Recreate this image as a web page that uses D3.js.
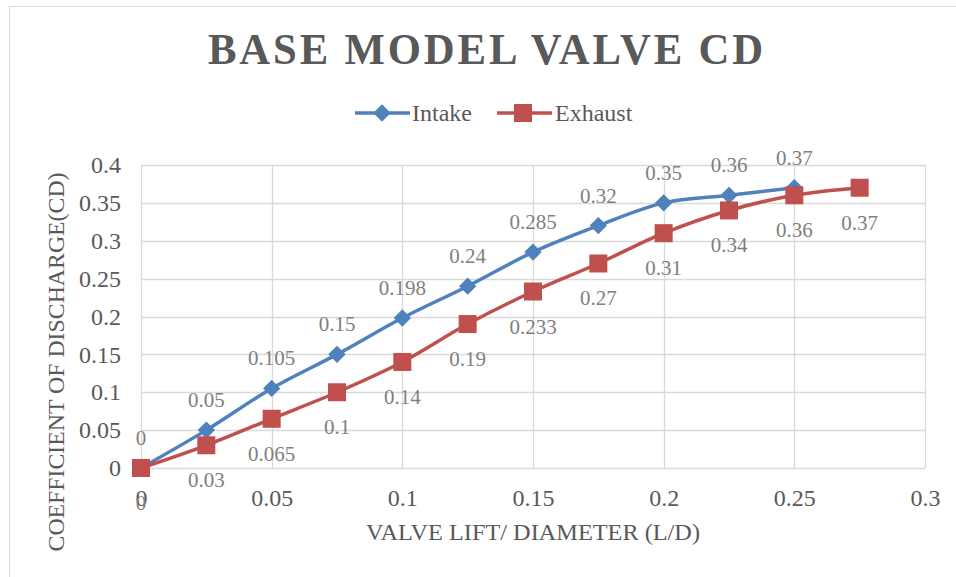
<!DOCTYPE html>
<html>
<head>
<meta charset="utf-8">
<script src="https://cdn.jsdelivr.net/npm/d3@7"></script>
<style>
  html, body { margin: 0; padding: 0; background: #fff; }
  svg { display: block; }
  text { font-family: "Liberation Serif", "Times New Roman", serif; }
</style>
</head>
<body>
<svg id="chart" width="956" height="577"></svg>
<script>
// ---- data ----
const intakeX = [0, 0.025, 0.05, 0.075, 0.1, 0.125, 0.15, 0.175, 0.2, 0.225, 0.25];
const intakeY = [0, 0.05, 0.105, 0.15, 0.198, 0.24, 0.285, 0.32, 0.35, 0.36, 0.37];
const exhaustX = [0, 0.025, 0.05, 0.075, 0.1, 0.125, 0.15, 0.175, 0.2, 0.225, 0.25, 0.275];
const exhaustY = [0, 0.03, 0.065, 0.1, 0.14, 0.19, 0.233, 0.27, 0.31, 0.34, 0.36, 0.37];
const xTicks = [0, 0.05, 0.1, 0.15, 0.2, 0.25, 0.3];
const yTicks = [0, 0.05, 0.1, 0.15, 0.2, 0.25, 0.3, 0.35, 0.4];
const seriesNames = ["Intake", "Exhaust"];
const titleText = "BASE MODEL VALVE CD";
const xTitle = "VALVE LIFT/ DIAMETER (L/D)";
const yTitle = "COEFFICIENT OF DISCHARGE(CD)";

const blue = "#4f81bd", red = "#c0504d";
const svg = d3.select("#chart");

// chart border
svg.append("rect").attr("x", 9.5).attr("y", 6.5).attr("width", 960).attr("height", 600)
  .attr("fill", "#fff").attr("stroke", "#d9d9d9").attr("stroke-width", 1);

const x = d3.scaleLinear().domain([0, 0.3]).range([141, 925]);
const y = d3.scaleLinear().domain([0, 0.4]).range([468, 165]);

// gridlines
const g = svg.append("g");
g.selectAll("line.h").data(yTicks).join("line")
  .attr("x1", x(0)).attr("x2", x(0.3))
  .attr("y1", d => Math.round(y(d)) + 0.5).attr("y2", d => Math.round(y(d)) + 0.5)
  .attr("stroke", "#d9d9d9").attr("stroke-width", 1.3);
g.selectAll("line.v").data(xTicks).join("line")
  .attr("y1", y(0)).attr("y2", y(0.4))
  .attr("x1", d => Math.round(x(d)) + 0.5).attr("x2", d => Math.round(x(d)) + 0.5)
  .attr("stroke", "#d9d9d9").attr("stroke-width", 1.3);

// axes with d3 (labels only)
const fmt = d => String(+d.toFixed(3));
const yAxis = svg.append("g").attr("transform", `translate(${x(0)},0)`)
  .call(d3.axisLeft(y).tickValues(yTicks).tickFormat(fmt).tickSize(0).tickPadding(20));
const xAxis = svg.append("g").attr("transform", `translate(0,${y(0)})`)
  .call(d3.axisBottom(x).tickValues(xTicks).tickFormat(fmt).tickSize(0).tickPadding(21));
[yAxis, xAxis].forEach(a => {
  a.select(".domain").remove();
  a.selectAll("text").attr("font-family", "Liberation Serif").attr("font-size", 24).attr("fill", "#595959");
});

// title
svg.append("text").attr("x", 487).attr("y", 64).attr("text-anchor", "middle")
  .attr("font-size", 45).attr("font-weight", "bold").attr("fill", "#595959")
  .attr("letter-spacing", 3)
  .attr("textLength", 558).attr("lengthAdjust", "spacingAndGlyphs")
  .text(titleText);

// axis titles
svg.append("text").attr("x", 533).attr("y", 540).attr("text-anchor", "middle")
  .attr("font-size", 24).attr("fill", "#595959")
  .attr("textLength", 334).attr("lengthAdjust", "spacingAndGlyphs").text(xTitle);
svg.append("text").attr("transform", "translate(64,362) rotate(-90)").attr("text-anchor", "middle")
  .attr("font-size", 23).attr("fill", "#595959")
  .attr("textLength", 379).attr("lengthAdjust", "spacingAndGlyphs").text(yTitle);

// lines
const mk = (xs, ys) => xs.map((v, i) => [v, ys[i]]);
const intake = mk(intakeX, intakeY), exhaust = mk(exhaustX, exhaustY);
const line = d3.line().x(d => x(d[0])).y(d => y(d[1])).curve(d3.curveCatmullRom.alpha(0.5));

svg.append("path").datum(intake).attr("d", line).attr("fill", "none")
  .attr("stroke", blue).attr("stroke-width", 3.5).attr("stroke-linejoin", "round");
svg.append("path").datum(exhaust).attr("d", line).attr("fill", "none")
  .attr("stroke", red).attr("stroke-width", 3.5).attr("stroke-linejoin", "round");

const diamondPath = d3.symbol().type(d3.symbolSquare).size(150)();

svg.append("g").selectAll("path").data(intake).join("path")
  .attr("d", diamondPath)
  .attr("transform", d => `translate(${x(d[0])},${y(d[1])}) rotate(45)`)
  .attr("fill", blue);
svg.append("g").selectAll("rect").data(exhaust).join("rect")
  .attr("x", d => x(d[0]) - 9).attr("y", d => y(d[1]) - 9)
  .attr("width", 18).attr("height", 18).attr("fill", red);

// data labels
svg.append("g").selectAll("text").data(intake).join("text")
  .attr("x", d => x(d[0])).attr("y", d => y(d[1]) - 23)
  .attr("text-anchor", "middle").attr("font-size", 21).attr("fill", "#7f7f7f")
  .text(d => fmt(d[1]));
svg.append("g").selectAll("text").data(exhaust).join("text")
  .attr("x", d => x(d[0])).attr("y", d => y(d[1]) + 42)
  .attr("text-anchor", "middle").attr("font-size", 21).attr("fill", "#7f7f7f")
  .text(d => fmt(d[1]));

// legend
const lg = svg.append("g");
lg.append("line").attr("x1", 355).attr("x2", 410).attr("y1", 113).attr("y2", 113)
  .attr("stroke", blue).attr("stroke-width", 3.5);
lg.append("path").attr("d", diamondPath)
  .attr("transform", "translate(382,113) rotate(45)").attr("fill", blue);
lg.append("text").attr("x", 412).attr("y", 121).attr("font-size", 24).attr("fill", "#595959")
  .text(seriesNames[0]);
lg.append("line").attr("x1", 497).attr("x2", 552).attr("y1", 113).attr("y2", 113)
  .attr("stroke", red).attr("stroke-width", 3.5);
lg.append("rect").attr("x", 514).attr("y", 104).attr("width", 18).attr("height", 18).attr("fill", red);
lg.append("text").attr("x", 555).attr("y", 121).attr("font-size", 24).attr("fill", "#595959")
  .text(seriesNames[1]);
</script>
</body>
</html>
